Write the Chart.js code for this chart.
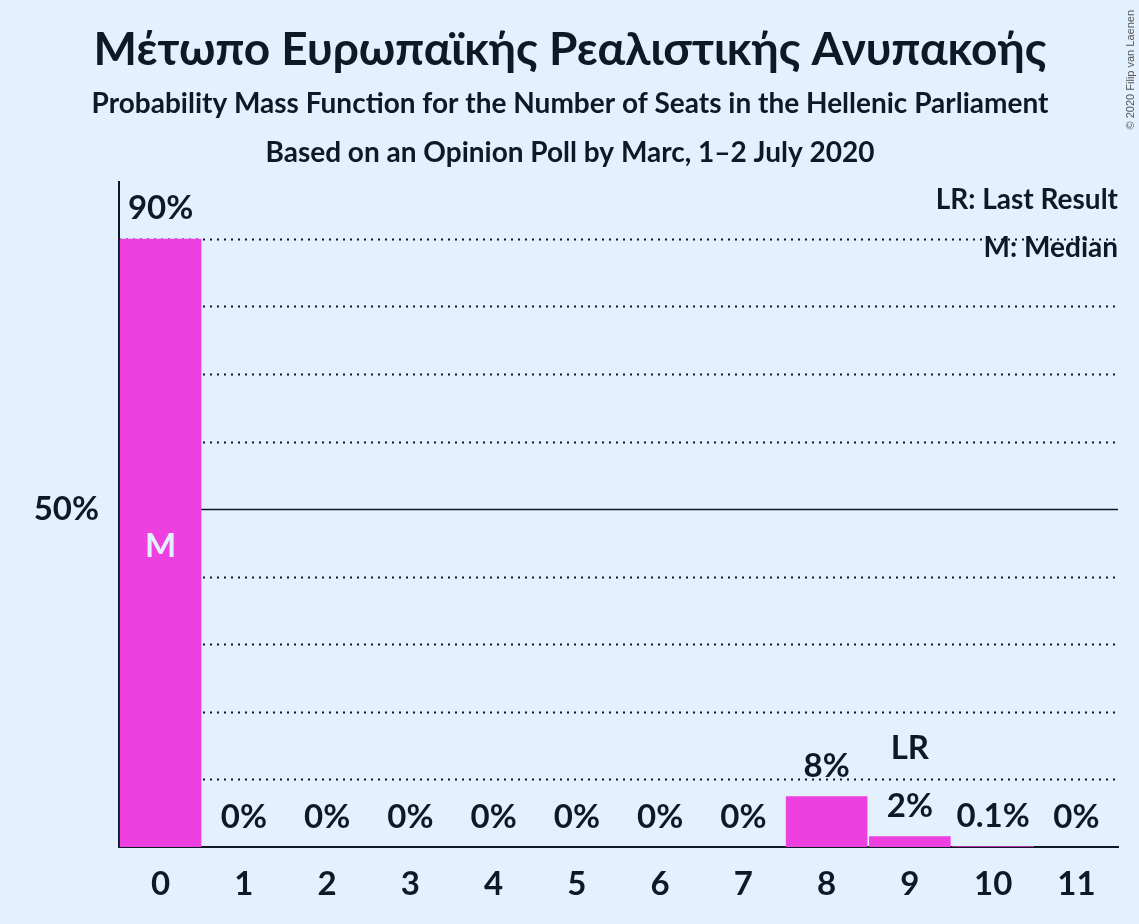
<!DOCTYPE html>
<html>
<head>
<meta charset="utf-8">
<script src="https://cdn.jsdelivr.net/npm/chart.js@4.4.0/dist/chart.umd.min.js"></script>
<style>
  html, body { margin: 0; padding: 0; background: #e3f0fd; }
  #wrap { width: 1139px; height: 924px; position: relative; }
</style>
</head>
<body>
<div id="wrap"><canvas id="seatsChart" width="1139" height="924"></canvas></div>
<script>
// data
const seats = ['0', '1', '2', '3', '4', '5', '6', '7', '8', '9', '10', '11'];
const probabilities = [90, 0, 0, 0, 0, 0, 0, 0, 7.5, 1.6, 0.1, 0];
const valueLabels = ['90%', '0%', '0%', '0%', '0%', '0%', '0%', '0%', '8%', '2%', '0.1%', '0%'];
const gridValues = [10, 20, 30, 40, 50, 60, 70, 80, 90];
const yTickValues = [50];
const medianSeat = '0';
const lastResultSeat = '9';

const titleText = 'Μέτωπο Ευρωπαϊκής Ρεαλιστικής Ανυπακοής';
const subtitleText = 'Probability Mass Function for the Number of Seats in the Hellenic Parliament';
const sourceText = 'Based on an Opinion Poll by Marc, 1–2 July 2020';
const legendLines = ['LR: Last Result', 'M: Median'];
const copyrightText = '© 2020 Filip van Laenen';

const DARK = '#0c1a26';
const BAR = '#ee3fe0';
const FONT = 'Lato, "Open Sans", sans-serif';

const decorPlugin = {
    id: 'decor',
    beforeDatasetsDraw(chart) {
        const ctx = chart.ctx;
        const area = chart.chartArea;
        const y = chart.scales.y;
        ctx.save();
        gridValues.forEach(v => {
            const py = Math.round(y.getPixelForValue(v)) + 0.5;
            ctx.beginPath();
            ctx.strokeStyle = DARK;
            if (v === 50) {
                ctx.setLineDash([]);
                ctx.lineWidth = 1.5;
            } else {
                ctx.setLineDash([2, 5]);
                ctx.lineWidth = 2;
            }
            ctx.moveTo(area.left, py);
            ctx.lineTo(area.right, py);
            ctx.stroke();
        });
        ctx.restore();
    },
    afterDatasetsDraw(chart) {
        const ctx = chart.ctx;
        const meta = chart.getDatasetMeta(0);
        const x = chart.scales.x;
        const y = chart.scales.y;
        ctx.save();
        ctx.textAlign = 'center';
        ctx.textBaseline = 'middle';
        ctx.fillStyle = DARK;
        ctx.font = 'bold 33px ' + FONT;
        meta.data.forEach((bar, i) => {
            ctx.fillText(valueLabels[i], bar.x, bar.y - 30);
        });
        // median marker inside the bar
        const mi = seats.indexOf(medianSeat);
        ctx.fillStyle = '#e3f0fd';
        ctx.fillText('M', x.getPixelForValue(mi), y.getPixelForValue(50) + 37);
        // last result marker
        const li = seats.indexOf(lastResultSeat);
        ctx.fillStyle = DARK;
        ctx.fillText('LR', meta.data[li].x, meta.data[li].y - 88);

        // titles
        ctx.font = 'bold 46px ' + FONT;
        ctx.fillText(titleText, 570, 50);
        ctx.font = 'bold 28px ' + FONT;
        ctx.fillText(subtitleText, 570, 104);
        ctx.fillText(sourceText, 570, 153);

        // legend
        ctx.textAlign = 'right';
        ctx.fillText(legendLines[0], 1118, 200);
        ctx.fillText(legendLines[1], 1118, 248);

        // copyright
        ctx.translate(1131, 10);
        ctx.rotate(-Math.PI / 2);
        ctx.textAlign = 'right';
        ctx.fillStyle = '#555555';
        ctx.font = '11px "Liberation Sans", Arial, sans-serif';
        ctx.fillText(copyrightText, 0, 0);
        ctx.restore();
    }
};

new Chart(document.getElementById('seatsChart').getContext('2d'), {
    type: 'bar',
    data: {
        labels: seats,
        datasets: [{
            data: probabilities,
            backgroundColor: BAR,
            borderWidth: 0,
            barPercentage: 0.98,
            categoryPercentage: 1.0
        }]
    },
    options: {
        responsive: false,
        animation: false,
        devicePixelRatio: 1,
        layout: { padding: { top: 182, right: 21, left: 0, bottom: 0 } },
        plugins: {
            legend: { display: false },
            tooltip: { enabled: false },
            title: { display: false }
        },
        scales: {
            x: {
                grid: { display: false, drawTicks: false },
                border: { display: true, color: DARK, width: 2 },
                ticks: {
                    color: DARK,
                    padding: 18,
                    font: { family: FONT, size: 33, weight: 'bold' }
                },
                afterFit(scale) { scale.height = 77; }
            },
            y: {
                min: 0,
                max: 98.4,
                grid: { display: false, drawTicks: false },
                border: { display: true, color: DARK, width: 2 },
                ticks: {
                    color: DARK,
                    padding: 20,
                    font: { family: FONT, size: 33, weight: 'bold' },
                    callback: v => v + '%'
                },
                afterBuildTicks(scale) {
                    scale.ticks = yTickValues.map(v => ({ value: v }));
                },
                afterFit(scale) { scale.width = 119; }
            }
        }
    },
    plugins: [decorPlugin]
});
</script>
</body>
</html>
